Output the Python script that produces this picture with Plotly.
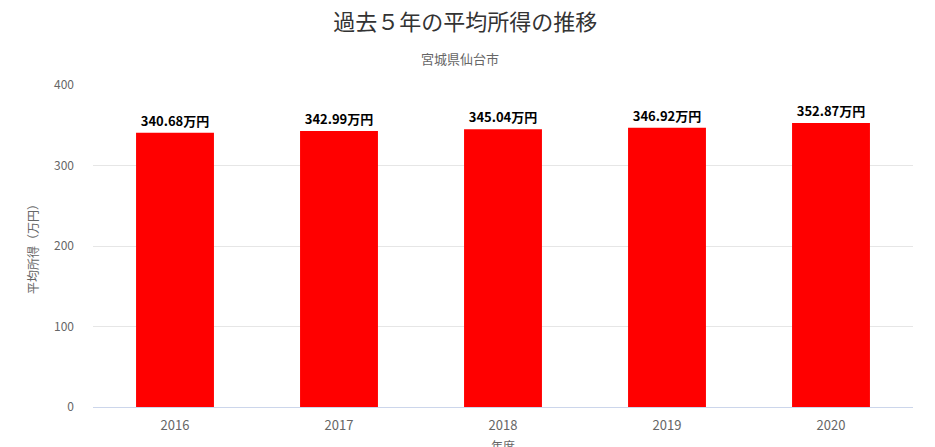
import plotly.graph_objects as go

# データ
years = ["2016", "2017", "2018", "2019", "2020"]
income = [340.68, 342.99, 345.04, 346.92, 352.87]
labels = [f"{v:.2f}万円" for v in income]

font_jp = "Noto Sans CJK JP"

fig = go.Figure(go.Bar(
    x=years, y=income,
    marker=dict(color="#ff0000", line=dict(width=0)),
    width=0.475,
    text=labels, textposition="outside",
    textfont=dict(family=font_jp, size=13, color="#000000"),
    texttemplate="<b>%{text}</b>",
    cliponaxis=False,
))

# ページ本体の余白(8px)を差し引いたマージン
fig.update_layout(
    width=935, height=447,
    margin=dict(l=85, r=30, t=77, b=48),
    paper_bgcolor="white", plot_bgcolor="white",
    font=dict(family=font_jp, color="#666666"),
    showlegend=False,
    title=dict(text="過去５年の平均所得の推移", x=0.489, xanchor="center",
               y=0.969, yanchor="middle",
               font=dict(size=22, color="#333333", family=font_jp)),
    annotations=[dict(text="宮城県仙台市", xref="paper", yref="paper",
                      x=0.447, y=1.0, yanchor="middle", yshift=27, showarrow=False,
                      font=dict(size=13, color="#666666", family=font_jp))],
)

fig.update_xaxes(
    showgrid=False, showline=True, linecolor="#ccd6eb", linewidth=1,
    automargin=False, ticklabelstandoff=6,
    tickfont=dict(size=13, color="#666666"),
    title=dict(text="年度", font=dict(size=12, color="#666666"), standoff=10),
)
fig.update_yaxes(
    range=[0, 400], dtick=100, showgrid=True, gridcolor="#e6e6e6",
    zeroline=False, showline=False, automargin=False,
    tickfont=dict(size=12, color="#666666"), ticklabelstandoff=18,
    title=dict(text="平均所得（万円）", font=dict(size=12, color="#666666"), standoff=12),
)

fig.write_html("out.html")
